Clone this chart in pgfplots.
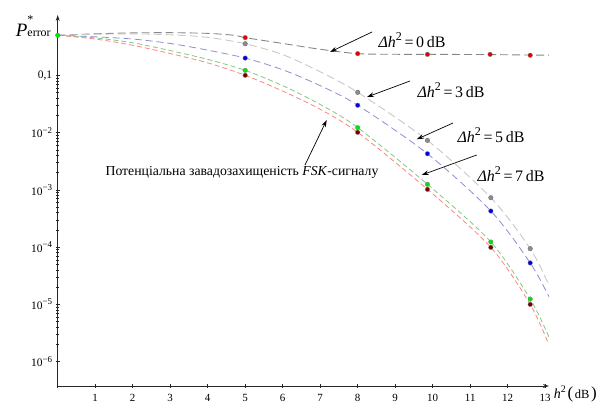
\documentclass[border=0pt]{standalone}
\usepackage{fontspec}
\setmainfont{Liberation Serif}
\usepackage{pgfplots}
\pgfplotsset{compat=1.18}
\usetikzlibrary{arrows.meta}
\definecolor{cdg}{RGB}{135,135,135}
\definecolor{clg}{RGB}{200,200,200}
\definecolor{cbl}{RGB}{140,140,215}
\definecolor{cgr}{RGB}{130,200,130}
\definecolor{crd}{RGB}{255,130,130}
\definecolor{mred}{RGB}{225,0,0}
\definecolor{mgray}{RGB}{140,140,140}
\definecolor{mblue}{RGB}{0,0,225}
\definecolor{mgreen}{RGB}{0,230,0}
\definecolor{mdred}{RGB}{115,0,0}
\newcommand{\tsup}[1]{10\raisebox{4.8bp}{\fontsize{9}{9}\selectfont #1}}
\newcommand{\dhlab}[1]{\textit{Δh}\raisebox{7bp}{\fontsize{12}{12}\selectfont 2}\,=\,#1\,dB}

\pgfplotstableread{
x y
0 0.50
1 0.53
2 0.55
3 0.555
4 0.54
4.7 0.50
5 0.455
6 0.36
7 0.285
8 0.239
9 0.233
9.86 0.232
11 0.231
11.55 0.230
12.6 0.226
13.1 0.225
}\curveA
\pgfplotstableread{
x y
0 0.50
1 0.52
2 0.53
3 0.51
4 0.46
5 0.356
6 0.23
7 0.115
8 0.0504
9.86 0.0073
11.55 0.00073
12.6 0.000094
13.08 0.000023
}\curveB
\pgfplotstableread{
x y
0 0.50
1 0.47
2 0.43
3 0.36
4 0.275
5 0.20
6 0.125
7 0.066
8 0.030
9.86 0.00427
11.55 0.000427
12.6 0.000053
13.1 0.0000136
}\curveC
\pgfplotstableread{
x y
0 0.50
1 0.45
2 0.37
3 0.27
4 0.19
5 0.122
6 0.066
7 0.031
8 0.0122
9.86 0.00125
11.55 0.000123
12.6 0.0000124
13.1 0.0000027
}\curveD
\pgfplotstableread{
x y
0 0.50
1 0.43
2 0.335
3 0.24
4 0.165
5 0.100
6 0.053
7 0.0255
8 0.0101
9.86 0.00102
11.55 0.000099
12.6 0.0000100
13.08 0.0000021
}\curveE

\begin{document}
\begin{tikzpicture}[x=1bp,y=1bp]
\path[use as bounding box] (-57.7,-17) rectangle (552.3,386);
\begin{axis}[
  at={(0,0)}, anchor=south west,
  scale only axis, width=491.25bp, height=371bp,
  xmin=0, xmax=13.1, ymin=3.76e-7, ymax=1.13,
  ymode=log,
  axis x line=bottom, axis y line=left,
  axis line style={black!85, line width=0.9bp, -{Stealth[length=6bp,width=4bp]}},
  xtick={0,1,2,3,4,5,6,7,8,9,10,11,12,13},
  xticklabels={{},1,2,3,4,5,6,7,8,9,10,11,12,13},
  ytick={1e-6,1e-5,1e-4,1e-3,1e-2,0.1},
  yticklabels={\tsup{−6},\tsup{−5},\tsup{−4},\tsup{−3},\tsup{−2},{0,1}},
  minor tick num=0,
  tick align=center, major tick length=4bp,
  tick style={black!85, line width=0.6bp},
  xticklabel style={font=\fontsize{11}{11}\selectfont, yshift=-2.5bp},
  yticklabel style={font=\fontsize{11.5}{11.5}\selectfont},
  /pgf/number format/assume math mode=true,
  clip=false,
]
\addplot[cdg, line width=0.9bp, dash pattern=on 8bp off 4bp, smooth, tension=0.5] table {\curveA};
\addplot[clg, line width=0.9bp, dash pattern=on 8bp off 4bp, smooth, tension=0.5] table {\curveB};
\addplot[cbl, line width=0.8bp, dash pattern=on 7bp off 4bp, smooth, tension=0.5] table {\curveC};
\addplot[cgr, line width=0.8bp, dash pattern=on 5bp off 3bp, smooth, tension=0.5] table {\curveD};
\addplot[crd, line width=0.8bp, dash pattern=on 5bp off 3bp, smooth, tension=0.5] table {\curveE};

\addplot[only marks, mark=*, mark size=2.3bp, mark options={fill=mred, draw=black!50, line width=0.3bp}] coordinates {(5,0.455) (8,0.239) (9.86,0.232) (11.53,0.232) (12.6,0.224)};
\addplot[only marks, mark=*, mark size=2.3bp, mark options={fill=mgray, draw=black!60, line width=0.3bp}] coordinates {(5,0.356) (8,0.0504) (9.86,0.0073) (11.55,0.00073) (12.6,0.000094)};
\addplot[only marks, mark=*, mark size=2.3bp, mark options={fill=mblue, draw=black!50, line width=0.3bp}] coordinates {(5,0.20) (8,0.030) (9.86,0.00427) (11.55,0.000427) (12.6,0.000053)};
\addplot[only marks, mark=*, mark size=2.3bp, mark options={fill=mdred, draw=black!50, line width=0.3bp}] coordinates {(5,0.100) (8,0.0101) (9.86,0.00102) (11.55,0.000099) (12.6,0.0000100)};
\addplot[only marks, mark=*, mark size=2.3bp, mark options={fill=mgreen, draw=black!50, line width=0.3bp}] coordinates {(0,0.50) (5,0.122) (8,0.0122) (9.86,0.00125) (11.55,0.000123) (12.6,0.0000124)};
\end{axis}
% annotations (bp relative to axis origin)
\tikzset{ann/.style={black, line width=0.7bp, -{Stealth[length=7bp,width=4.5bp]}}}
\node[font=\fontsize{16}{16}\selectfont] at (354.3,346) {\dhlab{0}};
\draw[ann] (314.3,354) -- (272.3,334);
\node[font=\fontsize{16}{16}\selectfont] at (393.3,296) {\dhlab{3}};
\draw[ann] (352.3,305) -- (309.3,289);
\node[font=\fontsize{16}{16}\selectfont] at (433.3,251) {\dhlab{5}};
\draw[ann] (395.3,263) -- (359,246.7);
\node[font=\fontsize{16}{16}\selectfont] at (453.3,212) {\dhlab{7}};
\draw[ann] (419,231) -- (364,211);
\node[font=\fontsize{13.8}{13.8}\selectfont] at (184.3,213.3) {Потенціальна завадозахищеність \textit{FSK}-сигналу};
\draw[ann] (247.3,221) -- (269,266);
\node[anchor=base west, inner sep=0pt] at (-42,350) {{\fontsize{19}{19}\selectfont\textit{P}}\rlap{\raisebox{13bp}{\fontsize{12}{12}\selectfont *}}{\fontsize{12}{12}\selectfont error}};
\node[anchor=west, inner sep=0pt] at (496,-8) {{\fontsize{14}{14}\selectfont\textit{h}}\raisebox{6bp}{\fontsize{10}{10}\selectfont 2}\,{\fontsize{17}{17}\selectfont(}\,{\fontsize{12.5}{12.5}\selectfont dB}\,{\fontsize{17}{17}\selectfont)}};
\end{tikzpicture}
\end{document}
